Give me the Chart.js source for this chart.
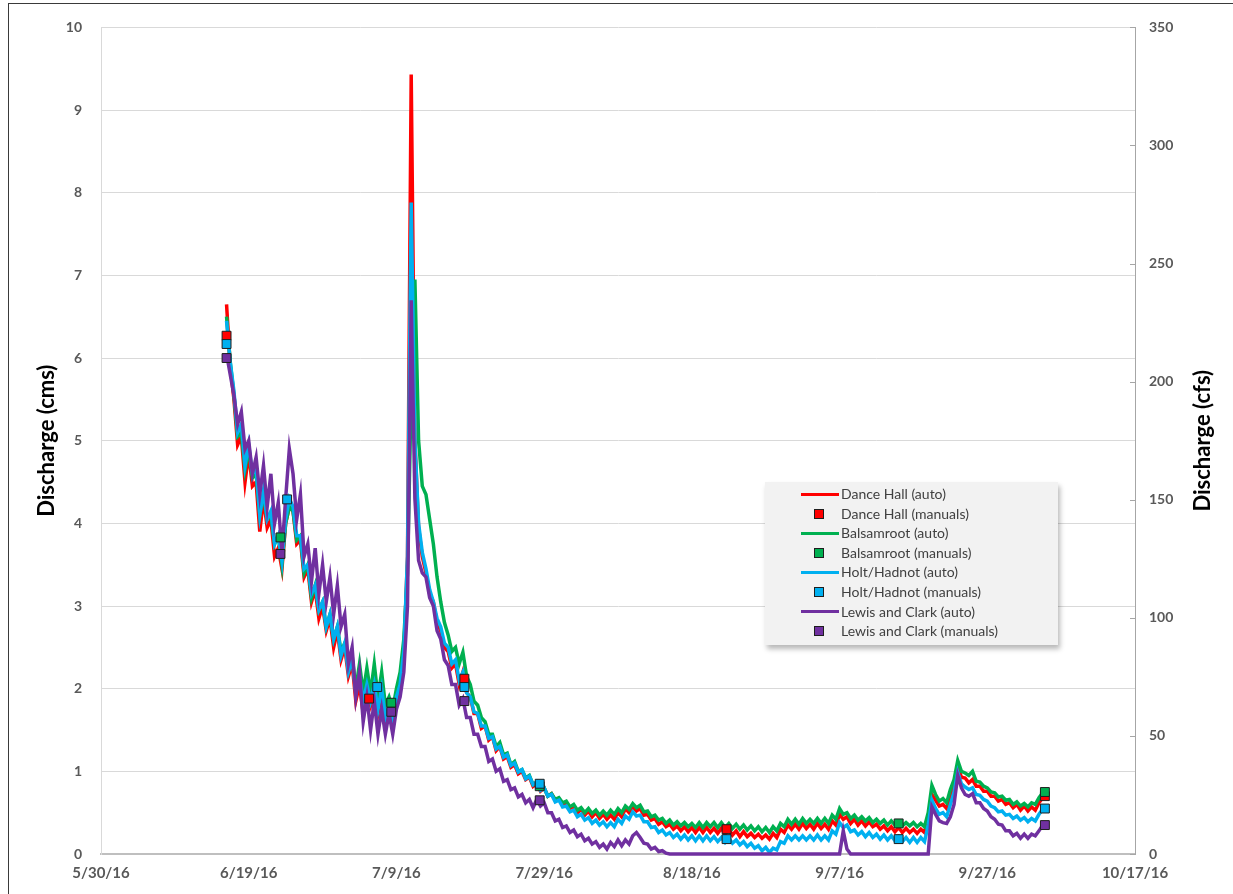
<!DOCTYPE html>
<html>
<head>
<meta charset="utf-8">
<script src="https://cdn.jsdelivr.net/npm/chart.js@4.4.1/dist/chart.umd.min.js"></script>
<style>
  html, body { margin: 0; padding: 0; background: #fff; }
  #wrap { position: relative; width: 1233px; height: 894px; overflow: hidden; background: #fff; }
  #frame { position: absolute; left: 8px; top: 3px; width: 1300px; height: 1000px;
           border-left: 1.5px solid #3a3a3a; border-top: 1.5px solid #3a3a3a; }
  #chart { position: absolute; left: 0; top: 0; }
  #legend { position: absolute; left: 765px; top: 482px; width: 293px; height: 163px;
            background: #f2f2f2; box-shadow: 2px 4px 5px rgba(0,0,0,0.28);
            font-family: Lato, "Open Sans", sans-serif; font-size: 14px; color: #404040; }
  .row { position: absolute; left: 0; height: 20px; width: 100%; }
  .ln { position: absolute; left: 36px; top: 8.5px; width: 38px; height: 3px; }
  .mk { position: absolute; left: 49px; top: 5px; width: 8px; height: 8px; border: 1px solid #1e1e1e; }
  .tx { position: absolute; left: 76px; top: 0; line-height: 20px; white-space: nowrap; }
</style>
</head>
<body>
<div id="wrap">
  <div id="frame"></div>
  <canvas id="chart" width="1233" height="894"></canvas>
  <div id="legend"></div>
</div>
<script>
// ---------------- DATA ----------------
const baseDate = [2016, 4, 30];          // 5/30/16 = day 0
const xTickDays = [0, 20, 40, 60, 80, 100, 120, 140];
const leftTicks = [0,1,2,3,4,5,6,7,8,9,10];
const rightTicks = [0,50,100,150,200,250,300,350];
const leftTitle = 'Discharge (cms)';
const rightTitle = 'Discharge (cfs)';

const siteNames = ['Dance Hall', 'Balsamroot', 'Holt/Hadnot', 'Lewis and Clark'];
const siteColors = ['#ff0000', '#00b050', '#00b0f0', '#7030a0'];

// continuous logger records: first day and spacing (days) of the readings below
const autoStartDay = 17;
const autoStepDays = 0.5;

const danceHallAuto = [
  6.65, 5.9, 5.5, 4.95, 5.05, 4.5, 4.85, 4.45, 4.5, 3.9,
  4.3, 3.95, 4.05, 3.6, 3.7, 3.45, 4.0, 4.2, 4.15, 3.75,
  3.8, 3.35, 3.45, 3.05, 3.2, 2.85, 3.0, 2.7, 2.85, 2.5,
  2.7, 2.35, 2.5, 2.15, 2.3, 1.85, 2.05, 1.7, 1.95, 1.8,
  2.0, 1.7, 1.95, 1.6, 1.75, 1.55, 1.85, 2.0, 2.4, 3.6,
  9.43, 5.0, 3.95, 3.6, 3.4, 3.15, 3.05, 2.8, 2.7, 2.5,
  2.45, 2.25, 2.3, 2.05, 2.2, 1.95, 1.9, 1.7, 1.7, 1.52,
  1.55, 1.38, 1.42, 1.25, 1.3, 1.15, 1.18, 1.05, 1.08, 0.97,
  1.0, 0.9, 0.93, 0.82, 0.86, 0.76, 0.8, 0.7, 0.73, 0.65,
  0.67, 0.6, 0.62, 0.55, 0.58, 0.5, 0.54, 0.47, 0.52, 0.45,
  0.5, 0.43, 0.48, 0.42, 0.47, 0.42, 0.5, 0.45, 0.55, 0.5,
  0.57, 0.52, 0.55, 0.47, 0.48, 0.41, 0.43, 0.36, 0.39, 0.33,
  0.36, 0.3, 0.34, 0.28, 0.33, 0.27, 0.32, 0.26, 0.32, 0.26,
  0.32, 0.26, 0.31, 0.25, 0.31, 0.24, 0.3, 0.23, 0.28, 0.21,
  0.27, 0.21, 0.25, 0.2, 0.24, 0.19, 0.23, 0.18, 0.25, 0.2,
  0.3, 0.26, 0.35, 0.3, 0.36, 0.3, 0.37, 0.31, 0.36, 0.3,
  0.37, 0.31, 0.36, 0.3, 0.4, 0.35, 0.48, 0.42, 0.45, 0.37,
  0.42, 0.35, 0.4, 0.34, 0.39, 0.33, 0.36, 0.3, 0.34, 0.28,
  0.33, 0.27, 0.32, 0.26, 0.31, 0.26, 0.3, 0.25, 0.3, 0.26,
  0.45, 0.72, 0.65, 0.58, 0.6, 0.55, 0.7, 0.82, 1.05, 0.93,
  0.92, 0.86, 0.9, 0.82, 0.82, 0.76, 0.76, 0.7, 0.7, 0.64,
  0.66, 0.6, 0.62, 0.56, 0.6, 0.53, 0.58, 0.52, 0.57, 0.53,
  0.62, 0.68
];
const balsamrootAuto = [
  6.5, 5.95, 5.55, 5.05, 5.1, 4.65, 4.9, 4.55, 4.6, 4.1,
  4.35, 4.05, 4.1, 3.75, 3.85, 3.5, 4.0, 4.2, 4.15, 3.8,
  3.85, 3.4, 3.5, 3.1, 3.25, 2.95, 3.05, 2.75, 2.9, 2.6,
  2.75, 2.45, 2.55, 2.25, 2.4, 2.0, 2.3, 1.95, 2.25, 1.95,
  2.3, 1.9, 2.2, 1.8, 1.9, 1.75, 2.0, 2.2, 2.6, 3.4,
  5.6, 6.95, 5.0, 4.45, 4.35, 4.05, 3.75, 3.35, 3.05, 2.8,
  2.65, 2.45, 2.5, 2.3, 2.44, 2.15, 2.05, 1.85, 1.8, 1.65,
  1.6, 1.45, 1.45, 1.3, 1.35, 1.2, 1.22, 1.08, 1.12, 1.0,
  1.02, 0.92, 0.95, 0.84, 0.87, 0.78, 0.8, 0.7, 0.73, 0.66,
  0.68, 0.62, 0.64, 0.57, 0.6, 0.53, 0.56, 0.5, 0.55, 0.49,
  0.53, 0.47, 0.52, 0.47, 0.53, 0.48, 0.55, 0.5, 0.58, 0.54,
  0.61, 0.56, 0.59, 0.51, 0.52, 0.45, 0.47, 0.41, 0.43, 0.37,
  0.41, 0.35, 0.39, 0.34, 0.38, 0.33, 0.37, 0.32, 0.38, 0.32,
  0.38, 0.33, 0.38, 0.32, 0.38, 0.32, 0.37, 0.31, 0.36, 0.3,
  0.35, 0.29, 0.34, 0.28, 0.33, 0.27, 0.32, 0.26, 0.33, 0.28,
  0.37, 0.33, 0.42, 0.36, 0.42, 0.36, 0.43, 0.37, 0.42, 0.37,
  0.43, 0.37, 0.43, 0.37, 0.47, 0.42, 0.55, 0.48, 0.5, 0.43,
  0.47, 0.41, 0.45, 0.4, 0.44, 0.38, 0.42, 0.37, 0.41, 0.35,
  0.4, 0.35, 0.39, 0.34, 0.38, 0.34, 0.38, 0.33, 0.37, 0.33,
  0.5, 0.83, 0.72, 0.64, 0.67, 0.62, 0.78, 0.9, 1.13, 1.0,
  0.98, 0.95, 1.0, 0.88, 0.87, 0.82, 0.8, 0.75, 0.74, 0.69,
  0.7, 0.65, 0.66, 0.6, 0.63, 0.58, 0.61, 0.57, 0.62, 0.6,
  0.68, 0.74
];
const holtHadnotAuto = [
  6.45, 5.95, 5.6, 5.1, 5.2, 4.7, 4.95, 4.6, 4.65, 4.1,
  4.4, 4.05, 4.15, 3.75, 3.85, 3.55, 4.05, 4.3, 4.2, 3.85,
  3.85, 3.45, 3.5, 3.15, 3.25, 2.95, 3.05, 2.75, 2.9, 2.6,
  2.75, 2.4, 2.55, 2.2, 2.35, 1.95, 2.15, 1.85, 2.05, 1.85,
  2.05, 1.75, 2.0, 1.65, 1.8, 1.6, 1.9, 2.05, 2.45, 3.6,
  7.88, 5.0, 4.0, 3.65, 3.45, 3.2, 3.05, 2.85, 2.75, 2.55,
  2.5, 2.3, 2.35, 2.1, 2.2, 1.95, 1.9, 1.72, 1.7, 1.55,
  1.55, 1.4, 1.42, 1.27, 1.3, 1.17, 1.2, 1.07, 1.1, 0.99,
  1.02, 0.91, 0.94, 0.84, 0.87, 0.77, 0.8, 0.7, 0.72, 0.63,
  0.65, 0.57, 0.58, 0.51, 0.53, 0.45, 0.48, 0.41, 0.44, 0.37,
  0.41, 0.35, 0.39, 0.33, 0.38, 0.33, 0.42, 0.37, 0.46, 0.42,
  0.51, 0.46, 0.47, 0.39, 0.39, 0.32, 0.33, 0.26, 0.29, 0.23,
  0.26, 0.2, 0.24, 0.18, 0.23, 0.17, 0.22, 0.16, 0.22, 0.16,
  0.22, 0.16, 0.21, 0.15, 0.2, 0.14, 0.19, 0.13, 0.17, 0.11,
  0.15, 0.09, 0.13, 0.07, 0.1, 0.04, 0.08, 0.02, 0.07, 0.05,
  0.15, 0.13, 0.22, 0.17, 0.22, 0.17, 0.22, 0.17, 0.22, 0.17,
  0.23, 0.17, 0.22, 0.17, 0.28, 0.24, 0.38, 0.32, 0.35, 0.27,
  0.29, 0.23, 0.27, 0.21, 0.26, 0.2, 0.24, 0.18, 0.23, 0.17,
  0.22, 0.16, 0.21, 0.15, 0.2, 0.14, 0.2, 0.14, 0.2, 0.15,
  0.35, 0.65, 0.55, 0.48, 0.5, 0.45, 0.6, 0.75, 0.99, 0.85,
  0.81, 0.78, 0.8, 0.72, 0.71, 0.66, 0.64, 0.58, 0.56, 0.51,
  0.52, 0.47, 0.48, 0.43, 0.46, 0.41, 0.44, 0.39, 0.43, 0.4,
  0.48, 0.54
];
const lewisClarkAuto = [
  6.05, 5.8, 5.55, 5.2, 5.35, 4.9, 5.0, 4.6, 4.8, 4.35,
  4.7, 4.2, 4.6, 4.0, 4.25, 3.65, 4.3, 4.9, 4.6, 4.05,
  4.35, 3.6, 3.75, 3.3, 3.7, 3.15, 3.5, 3.05, 3.35, 2.9,
  3.25, 2.75, 2.9, 2.3, 2.5, 1.9, 2.2, 1.6, 1.9, 1.5,
  1.85, 1.45, 1.75, 1.45, 1.7, 1.45, 1.75, 1.9, 2.2, 3.0,
  6.7, 4.3, 3.55, 3.4, 3.35, 3.1, 3.0, 2.7, 2.6, 2.35,
  2.28, 2.05, 2.05, 1.8, 1.88, 1.65, 1.65, 1.45, 1.45, 1.3,
  1.3, 1.12, 1.15, 1.0, 1.03, 0.88, 0.9, 0.78, 0.8, 0.69,
  0.72, 0.62, 0.66, 0.56, 0.66, 0.58, 0.62, 0.5, 0.5, 0.4,
  0.42, 0.32, 0.34, 0.26, 0.29, 0.21, 0.24, 0.16, 0.19, 0.12,
  0.15, 0.08, 0.12, 0.06, 0.14, 0.09, 0.17, 0.1, 0.17, 0.12,
  0.22, 0.26, 0.2, 0.13, 0.12, 0.06, 0.08, 0.03, 0.04, 0.01,
  0, 0, 0, 0, 0, 0, 0, 0, 0, 0,
  0, 0, 0, 0, 0, 0, 0, 0, 0, 0,
  0, 0, 0, 0, 0, 0, 0, 0, 0, 0,
  0, 0, 0, 0, 0, 0, 0, 0, 0, 0,
  0, 0, 0, 0, 0, 0, 0, 0.28, 0.06, 0,
  0, 0, 0, 0, 0, 0, 0, 0, 0, 0,
  0, 0, 0, 0, 0, 0, 0, 0, 0, 0,
  0, 0.57, 0.48, 0.4, 0.38, 0.37, 0.45, 0.6, 0.95, 0.8,
  0.72, 0.7, 0.73, 0.62, 0.62, 0.55, 0.52, 0.45, 0.42, 0.36,
  0.35, 0.28, 0.28, 0.22, 0.25, 0.19, 0.24, 0.19, 0.24, 0.22,
  0.28, 0.35
];

// manual measurements (day since 5/30/16, discharge cms)
const danceHallManualDays   = [17.0, 36.3, 49.2, 84.7, 127.8];
const danceHallManualVals   = [6.27, 1.88, 2.12, 0.30, 0.70];
const balsamrootManualDays  = [24.3, 39.3, 59.4, 108.0, 127.8];
const balsamrootManualVals  = [3.83, 1.83, 0.82, 0.37, 0.75];
const holtHadnotManualDays  = [17.0, 25.2, 37.4, 49.2, 59.4, 84.7, 108.0, 127.8];
const holtHadnotManualVals  = [6.17, 4.29, 2.02, 2.02, 0.85, 0.18, 0.18, 0.55];
const lewisClarkManualDays  = [17.0, 24.3, 39.3, 49.2, 59.4, 127.8];
const lewisClarkManualVals  = [6.00, 3.63, 1.72, 1.85, 0.65, 0.35];

// ---------------- BUILD ----------------
const autoSeries = [danceHallAuto, balsamrootAuto, holtHadnotAuto, lewisClarkAuto];
const manualDays = [danceHallManualDays, balsamrootManualDays, holtHadnotManualDays, lewisClarkManualDays];
const manualVals = [danceHallManualVals, balsamrootManualVals, holtHadnotManualVals, lewisClarkManualVals];

function autoPoints(vals) {
  return vals.map((v, i) => ({ x: autoStartDay + i * autoStepDays, y: v }));
}
function manualPoints(days, vals) {
  return days.map((d, i) => ({ x: d, y: vals[i] }));
}
function dateLabel(v) {
  const d = new Date(Date.UTC(baseDate[0], baseDate[1], baseDate[2]) + v * 86400000);
  return (d.getUTCMonth() + 1) + '/' + d.getUTCDate() + '/' + String(d.getUTCFullYear()).slice(2);
}

const datasets = [];
siteNames.forEach((name, i) => {
  datasets.push({
    label: name + ' (auto)', type: 'line', data: autoPoints(autoSeries[i]),
    borderColor: siteColors[i], backgroundColor: siteColors[i], borderWidth: 3.5,
    pointRadius: 0, tension: 0, fill: false, clip: false, order: 8 - i, yAxisID: 'y'
  });
});
siteNames.forEach((name, i) => {
  datasets.push({
    label: name + ' (manuals)', type: 'line', data: manualPoints(manualDays[i], manualVals[i]),
    showLine: false, pointStyle: 'rect', pointRadius: 6.3, pointBorderWidth: 1,
    pointBorderColor: '#1e1e1e', pointBackgroundColor: siteColors[i],
    borderColor: siteColors[i], backgroundColor: siteColors[i],
    clip: false, order: 4 - i, yAxisID: 'y'
  });
});

const tickFont = { family: 'Lato, "Open Sans", sans-serif', size: 14, weight: 'bold' };

const extras = {
  id: 'extras',
  afterDraw(chart) {
    const ctx = chart.ctx;
    const s = chart.scales.y2;
    ctx.save();
    ctx.strokeStyle = '#a6a6a6';
    ctx.lineWidth = 1;
    s.ticks.forEach(t => {
      const py = Math.round(s.getPixelForValue(t.value)) + 0.5;
      ctx.beginPath(); ctx.moveTo(s.left - 5, py); ctx.lineTo(s.left, py); ctx.stroke();
    });
    const ca = chart.chartArea;
    ctx.translate(1203, (ca.top + ca.bottom) / 2);
    ctx.rotate(-Math.PI / 2);
    ctx.font = 'bold 22px Lato, "Open Sans", sans-serif';
    ctx.fillStyle = '#000';
    ctx.textAlign = 'center';
    ctx.textBaseline = 'middle';
    ctx.fillText(rightTitle, 0, 0);
    ctx.restore();
  }
};

new Chart(document.getElementById('chart'), {
  type: 'line',
  data: { datasets },
  plugins: [extras],
  options: {
    responsive: false, animation: false, events: [],
    layout: { padding: { left: 0, right: 0, top: 25, bottom: 0 } },
    plugins: { legend: { display: false }, tooltip: { enabled: false } },
    scales: {
      x: {
        type: 'linear', position: 'bottom', min: xTickDays[0], max: xTickDays[xTickDays.length - 1],
        afterBuildTicks: (sc) => { sc.ticks = xTickDays.map(v => ({ value: v })); },
        ticks: { callback: (v) => dateLabel(v), color: '#595959', font: { ...tickFont, size: 15 }, padding: 10, maxRotation: 0, autoSkip: false },
        grid: { display: true, drawOnChartArea: false, drawTicks: false },
        border: { display: true, color: '#bfbfbf', width: 2 },
        afterFit: (sc) => { sc.height = 40; }
      },
      y: {
        position: 'left', min: 0, max: 10,
        afterBuildTicks: (sc) => { sc.ticks = leftTicks.map(v => ({ value: v })); },
        ticks: { color: '#595959', font: tickFont, padding: 19 },
        grid: { color: '#d9d9d9', lineWidth: 1, drawTicks: false },
        border: { display: true, color: '#d9d9d9' },
        title: { display: true, text: leftTitle, color: '#000', font: { family: 'Lato, "Open Sans", sans-serif', size: 22, weight: 'bold' }, padding: { top: 34, bottom: 0 } },
        afterFit: (sc) => { sc.width = 101; }
      },
      y2: {
        position: 'right', min: 0, max: 350,
        afterBuildTicks: (sc) => { sc.ticks = rightTicks.map(v => ({ value: v })); },
        ticks: { color: '#595959', font: tickFont, padding: 14 },
        grid: { drawOnChartArea: false, drawTicks: false },
        border: { display: true, color: '#a6a6a6', width: 1 },
        afterFit: (sc) => { sc.width = 98; }
      }
    }
  }
});

// legend (HTML overlay)
const legend = document.getElementById('legend');
let row = 0;
siteNames.forEach((name, i) => {
  ['auto', 'manuals'].forEach(kind => {
    const r = document.createElement('div');
    r.className = 'row';
    r.style.top = (2 + row * 19.6) + 'px';
    const sample = document.createElement('div');
    sample.className = kind === 'auto' ? 'ln' : 'mk';
    sample.style.background = siteColors[i];
    const t = document.createElement('div');
    t.className = 'tx';
    t.textContent = name + ' (' + kind + ')';
    r.appendChild(sample); r.appendChild(t);
    legend.appendChild(r);
    row++;
  });
});
</script>
</body>
</html>
